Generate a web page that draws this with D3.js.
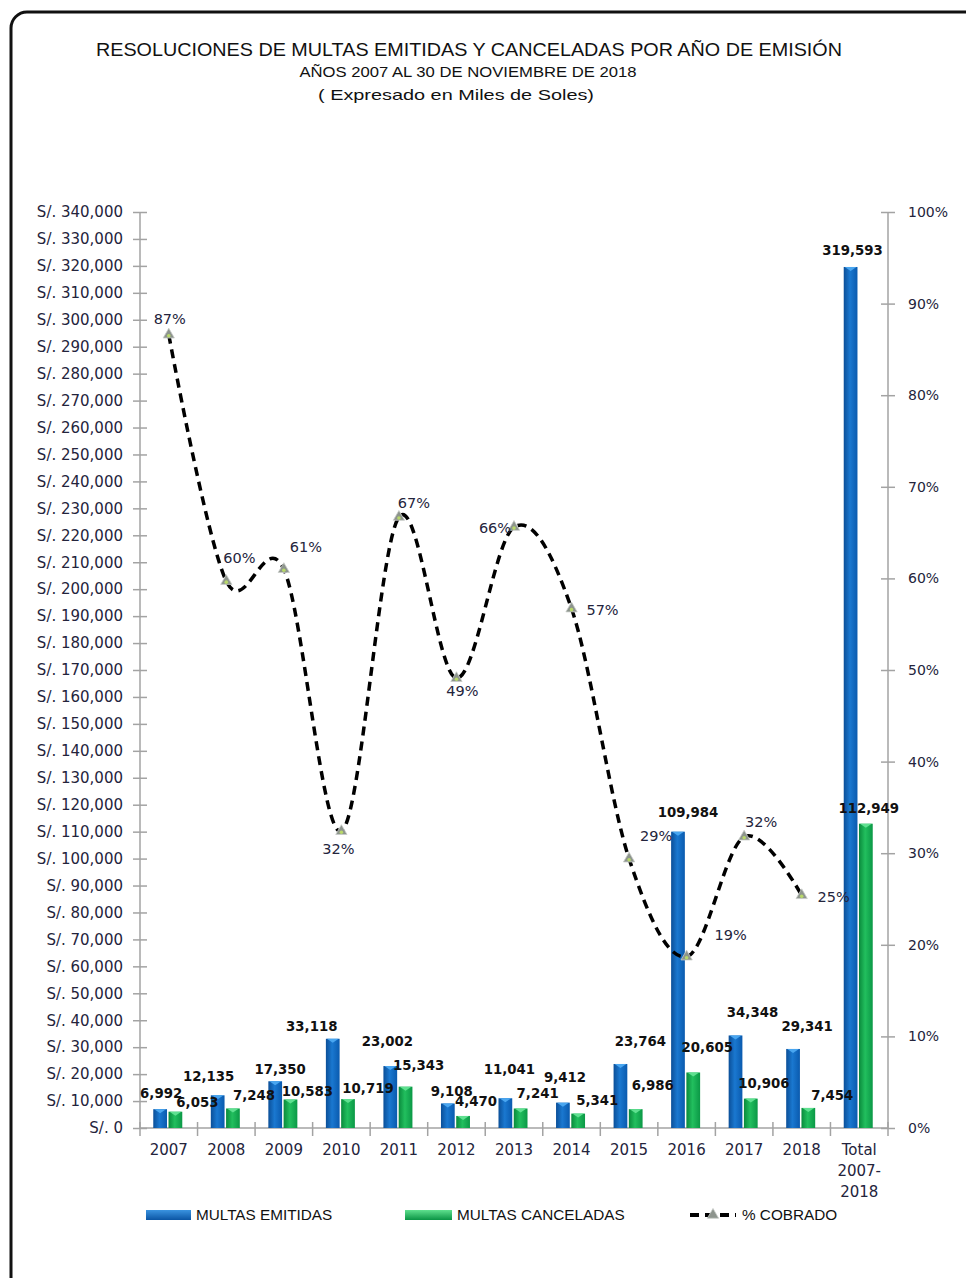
<!DOCTYPE html>
<html>
<head>
    <meta charset="utf-8">
    <title>Multas emitidas y canceladas</title>
    <script src="https://d3js.org/d3.v7.min.js"></script>
    <style>
        body { margin: 0; background: #fff; }
        svg text { font-family: "DejaVu Sans", Verdana, sans-serif; }
        .title { font-family: "Liberation Sans", Arial, sans-serif !important; fill: #111; }
        .legend text { font-family: "Liberation Sans", Arial, sans-serif; font-size: 15.3px; fill: #111; }
        .tick-label { font-size: 15px; fill: #24243c; }
        .val { font-size: 13.3px; font-weight: bold; fill: #111; }
        .pct { font-size: 14.5px; fill: #24243c; }
    </style>
</head>
<body>
<div id="chart"></div>
<script>
    // data (miles de soles)
    const categories = ["2007","2008","2009","2010","2011","2012","2013","2014","2015","2016","2017","2018","Total 2007-2018"];
    const emitidas   = [6992, 12135, 17350, 33118, 23002, 9108, 11041, 9412, 23764, 109984, 34348, 29341, 319593];
    const canceladas = [6053, 7248, 10583, 10719, 15343, 4470, 7241, 5341, 6986, 20605, 10906, 7454, 112949];
    const cobrado    = [86.6, 59.7, 61.0, 32.4, 66.7, 49.1, 65.6, 56.7, 29.4, 18.7, 31.8, 25.4]; // % por año
    const leftTicks  = d3.range(0, 340001, 10000);
    const rightTicks = d3.range(0, 101, 10);

    // label nudges (layout only): [dx from bar centre, dy from bar top]
    const emiNudge = [[1,-16],[-9,-19],[5,-12],[-21,-13],[-3,-25],[4,-12],[4,-29],[2,-26],[20,-23],[10,-20],[17,-23],[14,-23],[2,-17]];
    const canNudge = [[22,-10],[21,-13],[17,-8],[20,-11],[13,-22],[13,-15],[17,-15],[19,-14],[17,-24],[14,-25],[13,-16],[24,-13],[3,-16]];
    const pctNudge = [[1,-16],[13,-23],[22,-22],[-3,18],[15,-14],[6,13],[-19,1],[31,1],[27,-23],[44,-22],[17,-15],[32,2]];

    const W = 966, H = 1278;
    const mLeft = 140, mRight = 888, mTop = 212, mBottom = 1128;

    const svg = d3.select("#chart").append("svg")
        .attr("width", W).attr("height", H);

    const defs = svg.append("defs");
    function barGrad(id, c1, c2, c3) {
        const g = defs.append("linearGradient").attr("id", id)
            .attr("x1", "0").attr("x2", "1").attr("y1", "0").attr("y2", "0");
        g.append("stop").attr("offset", "0%").attr("stop-color", c1);
        g.append("stop").attr("offset", "45%").attr("stop-color", c2);
        g.append("stop").attr("offset", "100%").attr("stop-color", c3);
    }
    barGrad("gBlue", "#0b4f98", "#1a78d0", "#0a5aae");
    barGrad("gGreen", "#0a8a3c", "#22bf5e", "#0b9846");
    function legGrad(id, c1, c2) {
        const g = defs.append("linearGradient").attr("id", id)
            .attr("x1", "0").attr("x2", "0").attr("y1", "0").attr("y2", "1");
        g.append("stop").attr("offset", "0%").attr("stop-color", c1);
        g.append("stop").attr("offset", "100%").attr("stop-color", c2);
    }
    legGrad("lBlue", "#3a93e0", "#0b55a4");
    legGrad("lGreen", "#5fe08e", "#0a9444");

    // frame
    svg.append("rect")
        .attr("x", 11).attr("y", 12).attr("width", 990).attr("height", 1300)
        .attr("rx", 16).attr("fill", "none").attr("stroke", "#111").attr("stroke-width", 3);

    // titles
    svg.append("text").attr("class", "title").attr("x", 469).attr("y", 56)
        .attr("text-anchor", "middle").style("font-size", "18px")
        .attr("textLength", 746).attr("lengthAdjust", "spacingAndGlyphs")
        .text("RESOLUCIONES DE MULTAS EMITIDAS Y CANCELADAS POR AÑO DE EMISIÓN");
    svg.append("text").attr("class", "title").attr("x", 468).attr("y", 77)
        .attr("text-anchor", "middle").style("font-size", "14.5px")
        .attr("textLength", 337).attr("lengthAdjust", "spacingAndGlyphs")
        .text("AÑOS 2007 AL 30 DE NOVIEMBRE DE 2018");
    svg.append("text").attr("class", "title").attr("x", 456).attr("y", 100)
        .attr("text-anchor", "middle").style("font-size", "14.5px")
        .attr("textLength", 276).attr("lengthAdjust", "spacingAndGlyphs")
        .text("( Expresado en Miles de Soles)");

    // scales
    const x = d3.scaleBand().domain(categories).range([mLeft, mRight]);
    const yL = d3.scaleLinear().domain([0, 340000]).range([mBottom, mTop]);
    const yR = d3.scaleLinear().domain([0, 100]).range([mBottom, mTop]);
    const inner = d3.scaleBand().domain(["e", "c"]).range([0, 29]).paddingInner(0.1);
    const barOff = x.bandwidth() / 2 - 15.5;

    // axes
    const axisColor = "#a3a3a3";
    const gl = svg.append("g").attr("transform", `translate(${mLeft},0)`)
        .call(d3.axisLeft(yL).tickValues(leftTicks).tickSize(7).tickPadding(10)
            .tickFormat(d => "S/. " + d3.format(",")(d)));
    gl.selectAll(".tick line").attr("x2", 7).attr("x1", -7);
    const gr = svg.append("g").attr("transform", `translate(${mRight},0)`)
        .call(d3.axisRight(yR).tickValues(rightTicks).tickSize(7).tickPadding(13)
            .tickFormat(d => d + "%"));
    gr.selectAll(".tick line").attr("x1", -7).attr("x2", 7);
    [gl, gr].forEach(g => {
        g.select(".domain").attr("stroke", axisColor).attr("stroke-width", 1.5)
            .attr("d", `M0,${mTop}V${mBottom}`);
        g.selectAll(".tick line").attr("stroke", axisColor).attr("stroke-width", 1.5);
        g.selectAll(".tick text").attr("class", "tick-label").attr("fill", null);
    });
    gr.selectAll(".tick text").style("font-size", "14px");

    // x axis
    const gx = svg.append("g");
    gx.append("line").attr("x1", mLeft).attr("x2", mRight).attr("y1", mBottom).attr("y2", mBottom)
        .attr("stroke", axisColor).attr("stroke-width", 1.5);
    gx.selectAll(".xt").data(d3.range(categories.length + 1)).join("line")
        .attr("x1", i => mLeft + i * x.step()).attr("x2", i => mLeft + i * x.step())
        .attr("y1", mBottom - 6).attr("y2", mBottom + 8)
        .attr("stroke", axisColor).attr("stroke-width", 1.5);
    gx.selectAll(".xl").data(categories).join("text")
        .attr("class", "tick-label").attr("text-anchor", "middle")
        .attr("x", d => x(d) + x.bandwidth() / 2)
        .attr("y", mBottom + 27)
        .each(function (d) {
            const parts = d === "Total 2007-2018" ? ["Total", "2007-", "2018"] : [d];
            d3.select(this).selectAll("tspan").data(parts).join("tspan")
                .attr("x", x(d) + x.bandwidth() / 2)
                .attr("dy", (p, i) => i === 0 ? 0 : 21)
                .text(p => p);
        });

    // bars
    const bars = svg.append("g");
    function drawBars(vals, key, fill, cap) {
        const g = bars.append("g");
        g.selectAll("rect.b").data(vals).join("rect").attr("class", "b")
            .attr("x", (d, i) => x(categories[i]) + barOff + inner(key))
            .attr("width", inner.bandwidth())
            .attr("y", d => yL(d))
            .attr("height", d => mBottom - yL(d))
            .attr("fill", fill);
        g.selectAll("path.cap").data(vals).join("path").attr("class", "cap")
            .attr("d", (d, i) => {
                const x0 = x(categories[i]) + barOff + inner(key), w = inner.bandwidth(), y0 = yL(d);
                return `M${x0 + 1},${y0}H${x0 + w - 1}L${x0 + w / 2},${y0 + 4}Z`;
            })
            .attr("fill", cap);
    }
    drawBars(emitidas, "e", "url(#gBlue)", "#49a6f0");
    drawBars(canceladas, "c", "url(#gGreen)", "#5fe090");

    // bar value labels
    const fmt = d3.format(",");
    svg.append("g").selectAll("text").data(emitidas).join("text")
        .attr("class", "val").attr("text-anchor", "middle")
        .attr("x", (d, i) => x(categories[i]) + barOff + inner("e") + inner.bandwidth() / 2 + emiNudge[i][0])
        .attr("y", (d, i) => yL(d) + emiNudge[i][1] + 5)
        .text(d => fmt(d));
    svg.append("g").selectAll("text").data(canceladas).join("text")
        .attr("class", "val").attr("text-anchor", "middle")
        .attr("x", (d, i) => x(categories[i]) + barOff + inner("c") + inner.bandwidth() / 2 + canNudge[i][0])
        .attr("y", (d, i) => yL(d) + canNudge[i][1] + 5)
        .text(d => fmt(d));

    // % cobrado line
    const cx = i => x(categories[i]) + x.bandwidth() / 2;
    const line = d3.line().x((d, i) => cx(i)).y(d => yR(d)).curve(d3.curveCardinal.tension(0));
    svg.append("path").datum(cobrado).attr("d", line)
        .attr("fill", "none").attr("stroke", "#000").attr("stroke-width", 3.5)
        .attr("stroke-dasharray", "9,6");

    const tri = d3.symbol().type(d3.symbolTriangle).size(55);
    const mk = svg.append("g").selectAll("g").data(cobrado).join("g")
        .attr("transform", (d, i) => `translate(${cx(i)},${yR(d)})`);
    mk.append("path").attr("d", tri).attr("fill", "#8d948d").attr("stroke", "#c8ccc8").attr("stroke-width", 0.8);
    mk.append("circle").attr("r", 1.8).attr("cy", 1).attr("fill", "#b8d86a");

    svg.append("g").selectAll("text").data(cobrado).join("text")
        .attr("class", "pct").attr("text-anchor", "middle")
        .attr("x", (d, i) => cx(i) + pctNudge[i][0])
        .attr("y", (d, i) => yR(d) + pctNudge[i][1] + 5)
        .text(d => Math.round(d) + "%");

    // legend
    const lg = svg.append("g").attr("class", "legend").attr("transform", "translate(0,1215)");
    lg.append("rect").attr("x", 146).attr("y", -5).attr("width", 45).attr("height", 10).attr("fill", "url(#lBlue)");
    lg.append("text").attr("x", 196).attr("y", 5).text("MULTAS EMITIDAS");
    lg.append("rect").attr("x", 405).attr("y", -5).attr("width", 47).attr("height", 10).attr("fill", "url(#lGreen)");
    lg.append("text").attr("x", 457).attr("y", 5).text("MULTAS CANCELADAS");
    lg.append("line").attr("x1", 690).attr("x2", 736).attr("y1", 0).attr("y2", 0)
        .attr("stroke", "#000").attr("stroke-width", 4).attr("stroke-dasharray", "9,6");
    lg.append("path").attr("d", tri).attr("transform", "translate(713,0)")
        .attr("fill", "#8d948d").attr("stroke", "#c8ccc8").attr("stroke-width", 0.8);
    lg.append("text").attr("x", 742).attr("y", 5).text("% COBRADO");
</script>
</body>
</html>
